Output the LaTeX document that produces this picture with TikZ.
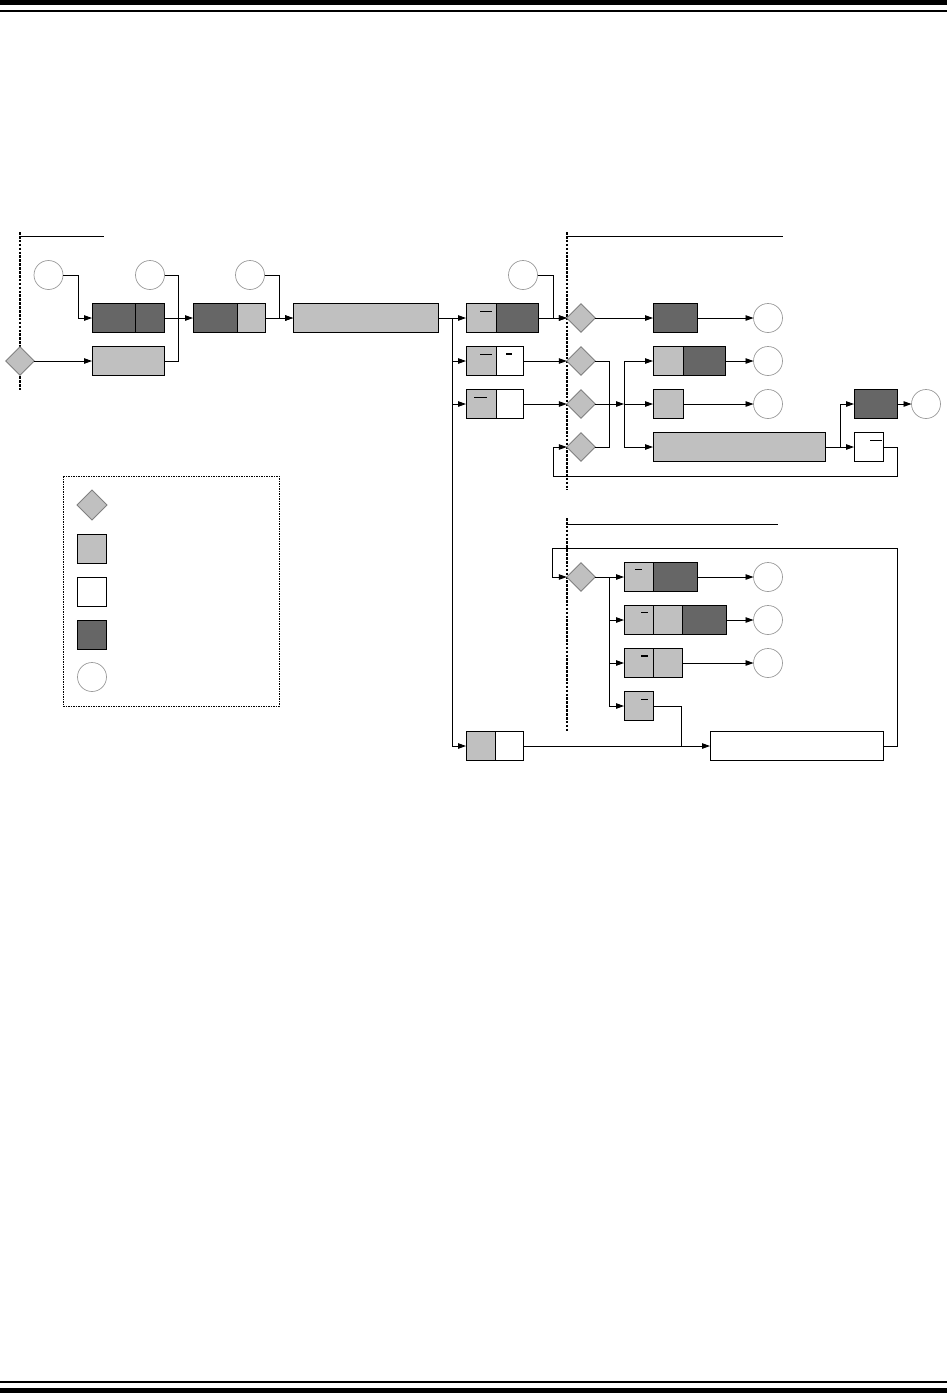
\documentclass[tikz,border=0pt]{standalone}
\usepackage{tikz}
\usetikzlibrary{positioning,calc}
\usetikzlibrary{arrows.meta,shapes.geometric}
\definecolor{CellLight}{RGB}{192,192,192}
\definecolor{CellDark}{RGB}{102,102,102}
\definecolor{RimGray}{RGB}{128,128,128}
\definecolor{PinGray}{RGB}{155,155,155}
\tikzset{
  cell/.style={rectangle,draw=black,line width=0.9pt,fill=CellLight,inner sep=0pt,outer sep=0pt,minimum height=28.5pt},
  cdk/.style={cell,fill=CellDark},
  cwt/.style={cell,fill=white},
  choice/.style={diamond,draw=RimGray,fill=CellLight,line width=0.8pt,inner sep=0pt,outer sep=0pt,minimum size=28.5pt},
  pin/.style={circle,draw=PinGray,fill=white,line width=0.7pt,inner sep=0pt,outer sep=0pt,minimum size=29pt},
  wire/.style={draw=black,line width=0.9pt},
  link/.style={wire,-{Triangle[length=8pt,width=5.5pt]}},
  fence/.style={draw=black,line width=1.6pt,dash pattern=on 2.6pt off 1.3pt},
  obar/.style={draw=black,line width=1pt},
}

\begin{document}
\begin{tikzpicture}[x=1pt,y=-1pt]
\useasboundingbox (0,0) rectangle (947,1393);
\fill (0,0) rectangle (947,5);
\fill (0,9.7) rectangle (947,11.7);
\fill (0,1380.7) rectangle (947,1382.7);
\fill (0,1388) rectangle (947,1393);
% region fences
\draw[fence] (20,232) -- (20,390);
\draw[fence] (567,232) -- (567,490);
\draw[fence] (567,518) -- (567,732);
\draw[wire] (20,236) -- (104,236);
\draw[wire] (567,236) -- (783,236);
\draw[wire] (567,524) -- (778,524);
% pins
\node[pin] (t1) at (48.5,275) {};
\node[pin] (t2) at (150,275) {};
\node[pin] (t3) at (250,275) {};
\node[pin] (t4) at (523,275) {};
\node[pin] (o1) at (768,318) {};
\node[pin] (o2) at (768,361) {};
\node[pin] (o3) at (768,404) {};
\node[pin] (o4) at (926,404) {};
\node[pin] (o5) at (768,577) {};
\node[pin] (o6) at (768,620) {};
\node[pin] (o7) at (768,663) {};
% decisions
\node[choice] (s0) at (20,361) {};
\node[choice] (s1) at (581,318) {};
\node[choice] (s2) at (581,361) {};
\node[choice] (s3) at (581,404) {};
\node[choice] (s4) at (581,447) {};
\node[choice] (s5) at (581,577) {};
% cells
\node[cdk,minimum width=43pt] (a1) at (113.5,318) {};
\node[cdk,minimum width=29pt] (a2) at (149.5,318) {};
\node[cell,minimum width=72pt] (b) at (128,361) {};
\node[cdk,minimum width=44pt] (c1) at (215,318) {};
\node[cell,minimum width=28pt] (c2) at (251,318) {};
\node[cell,minimum width=145pt] (d) at (365.5,318) {};
\node[cell,minimum width=30pt] (e1a) at (481,318) {};
\node[cdk,minimum width=42pt] (e1b) at (517,318) {};
\node[cell,minimum width=30pt] (e2a) at (481,361) {};
\node[cwt,minimum width=27pt] (e2b) at (509.5,361) {};
\node[cell,minimum width=30pt] (e3a) at (481,404) {};
\node[cwt,minimum width=27pt] (e3b) at (509.5,404) {};
\node[cdk,minimum width=44pt] (f1) at (675,318) {};
\node[cell,minimum width=30pt] (f2a) at (668,361) {};
\node[cdk,minimum width=42pt] (f2b) at (704,361) {};
\node[cell,minimum width=30pt] (f3) at (668,404) {};
\node[cell,minimum width=172pt] (f4) at (739,447) {};
\node[cdk,minimum width=43pt] (g1) at (875.5,404) {};
\node[cwt,minimum width=29pt] (g2) at (868.5,447) {};
\node[cell,minimum width=29pt] (h1) at (480.5,746) {};
\node[cwt,minimum width=28pt] (h2) at (509,746) {};
\node[cwt,minimum width=173pt] (j) at (796.5,746) {};
\node[cell,minimum width=29pt] (k1a) at (638.5,577) {};
\node[cdk,minimum width=44pt] (k1b) at (675,577) {};
\node[cell,minimum width=29pt] (k2a) at (638.5,620) {};
\node[cell,minimum width=29pt] (k2b) at (667.5,620) {};
\node[cdk,minimum width=44pt] (k2c) at (704,620) {};
\node[cell,minimum width=29pt] (k3a) at (638.5,663) {};
\node[cell,minimum width=29pt] (k3b) at (667.5,663) {};
\node[cell,minimum width=29pt] (k4) at (638.5,706) {};
% overbars
\draw[obar] (480,311) -- (492,311);
\draw[obar] (480,354) -- (492,354);
\draw[obar,line width=2pt] (506,354) -- (512,354);
\draw[obar] (474,397) -- (487,397);
\draw[obar] (870,440) -- (882,440);
\draw[obar] (635,569) -- (642,569);
\draw[obar] (641,612) -- (648,612);
\draw[obar,line width=2pt] (641,656) -- (648,656);
\draw[obar] (641,699) -- (648,699);
% upper flow
\draw[link] (t1.east) -- ++(15,0) |- (a1.west);
\draw[wire] (t2.east) -- ++(13.5,0) |- (b.east);
\draw[link] (s0.east) -- (b.west);
\draw[link] (a2.east) -- (c1.west);
\draw[link] (t3.east) -- ++(14.5,0) |- (d.west);
\draw[link] (c2.east) -- (d.west);
\draw[link] (d.east) -- (e1a.west);
\draw[link] (d.east) -- ++(14,0) |- (h1.west);
\draw[link] ([xshift=-14pt]e2a.west) -- (e2a.west);
\draw[link] ([xshift=-14pt]e3a.west) -- (e3a.west);
\draw[link] (t4.east) -- ++(15.5,0) |- (s1.west);
\draw[link] (e1b.east) -- (s1.west);
\draw[link] (e2b.east) -- (s2.west);
\draw[link] (e3b.east) -- (s3.west);
\draw[link] (s1.east) -- (f1.west);
\draw[link] (f1.east) -- (o1.west);
\draw[wire] (s2.east) -- ++(14,0) |- (s4.east);
\coordinate (hub) at (624,404);
\draw[link] (s3.east) -- (hub);
\draw[link] (hub) -- (f3.west);
\draw[link] (hub) |- (f2a.west);
\draw[link] (hub) |- (f4.west);
\draw[link] (f2b.east) -- (o2.west);
\draw[link] (f3.east) -- (o3.west);
\draw[link] (f4.east) -- (g2.west);
\draw[link] (f4.east) -- ++(15,0) |- (g1.west);
\draw[link] (g1.east) -- (o4.west);
\coordinate (loopa) at (897,476);
\coordinate (loopb) at (553,476);
\draw[link] (g2.east) -| (loopa) -- (loopb) |- (s4.west);
% lower flow
\draw[link] (h2.east) -- (j.west);
\coordinate (merge) at (681,746);
\draw[wire] (k4.east) -| (merge);
\coordinate (loopc) at (897,548);
\coordinate (loopd) at (552,548);
\draw[link] (j.east) -| (loopc) -- (loopd) |- (s5.west);
\coordinate (fork) at (609,577);
\draw[link] (s5.east) -- (k1a.west);
\draw[link] (fork) |- (k2a.west);
\draw[link] (fork) |- (k3a.west);
\draw[link] (fork) |- (k4.west);
\draw[link] (k1b.east) -- (o5.west);
\draw[link] (k2c.east) -- (o6.west);
\draw[link] (k3b.east) -- (o7.west);
% legend
\draw[line width=0.8pt,dash pattern=on 1.5pt off 1pt] (63,476) rectangle (279,706);
\node[choice,minimum size=30pt] (lg1) at (92,505) {};
\node[cell,minimum width=29pt,minimum height=29pt] (lg2) at (92,548.5) {};
\node[cwt,minimum width=29pt,minimum height=29pt] (lg3) at (92,592) {};
\node[cdk,minimum width=29pt,minimum height=29pt] (lg4) at (92,634.5) {};
\node[pin] (lg5) at (92,677) {};
\end{tikzpicture}
\end{document}
